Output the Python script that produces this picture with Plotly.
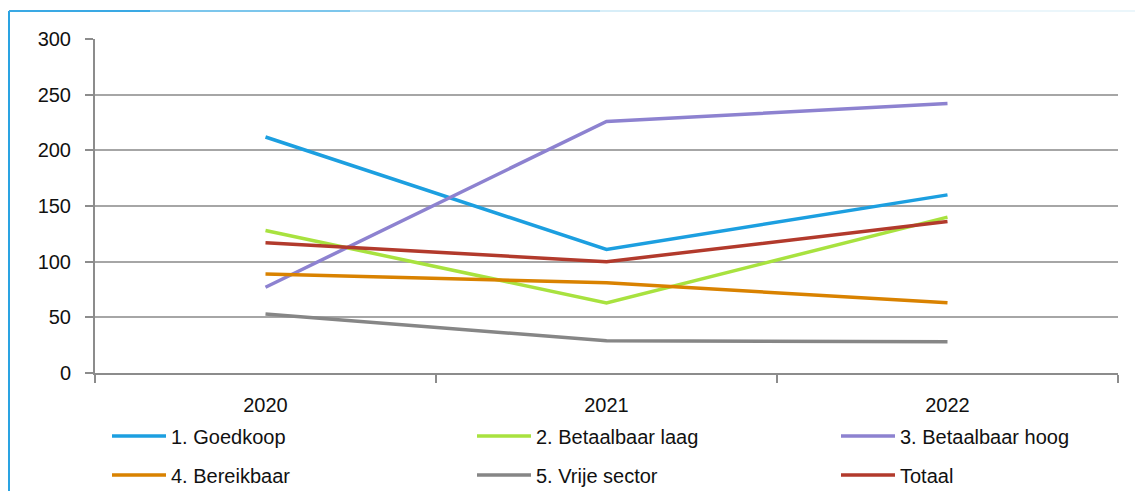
import plotly.graph_objects as go

years = ["2020", "2021", "2022"]
goedkoop = [212, 111, 160]
betaalbaar_laag = [128, 63, 140]
betaalbaar_hoog = [77, 226, 242]
bereikbaar = [89, 81, 63]
vrije_sector = [53, 29, 28]
totaal = [117, 100, 136]

names = ["1. Goedkoop", "2. Betaalbaar laag", "3. Betaalbaar hoog",
         "4. Bereikbaar", "5. Vrije sector", "Totaal"]
values = [goedkoop, betaalbaar_laag, betaalbaar_hoog, bereikbaar, vrije_sector, totaal]
colors = ["#1c9fe0", "#a8e23f", "#8d82d0", "#d98200", "#868686", "#b23a2c"]

FONT = "Liberation Sans, Arial, sans-serif"
FS = 20

W, H = 1143, 491
L, R, T, B = 95, 25, 39, 118
pw, ph = W - L - R, H - T - B


def px_x(p):
    return (p - L) / pw


def px_y(p):
    return (H - B - p) / ph


# legend slot positions (pixel), one legend per entry
leg_x = [107, 472, 836, 107, 472, 836]
leg_y = [436, 436, 436, 475, 475, 475]

fig = go.Figure()
legend_layout = {}
for i, (name, vals, col) in enumerate(zip(names, values, colors)):
    key = "legend" if i == 0 else f"legend{i + 1}"
    fig.add_trace(go.Scatter(x=years, y=vals, mode="lines", name=name,
                             line=dict(color=col, width=3.5), legend=key))
    legend_layout[key] = dict(
        x=px_x(leg_x[i]), y=px_y(leg_y[i]), xanchor="left", yanchor="middle",
        orientation="v", itemwidth=54, bgcolor="rgba(0,0,0,0)",
        font=dict(family=FONT, size=FS, color="#111"))

fig.update_layout(
    width=W, height=H,
    margin=dict(l=L, r=R, t=T, b=B, autoexpand=False),
    paper_bgcolor="white", plot_bgcolor="white",
    font=dict(family=FONT, size=FS, color="#111"),
    showlegend=True,
    xaxis=dict(type="category", range=[-0.5, 2.5], showgrid=False,
               showline=True, linecolor="#8c8c8c", linewidth=2,
               ticks="outside", tickson="boundaries", ticklen=8, tickwidth=2,
               tickcolor="#8c8c8c", tickfont=dict(family=FONT, size=FS, color="#111"),
               ticklabelstandoff=13),
    yaxis=dict(range=[0, 300], tickvals=[0, 50, 100, 150, 200, 250, 300],
               showgrid=True, gridcolor="#a6a6a6", gridwidth=2,
               showline=True, linecolor="#8c8c8c", linewidth=2,
               ticks="outside", ticklen=8, tickwidth=2, tickcolor="#8c8c8c",
               tickfont=dict(family=FONT, size=FS, color="#111"),
               ticklabelstandoff=10, zeroline=False),
    **legend_layout,
)

# frame (left and top edge of the surrounding box)
fig.add_shape(type="line", xref="paper", yref="paper",
              x0=px_x(9), x1=px_x(9), y0=px_y(11), y1=px_y(700),
              line=dict(color="#2aa3e2", width=2))
top_cols = ["#3aa9e4", "#7cc6ec", "#b5def3", "#d8eef8", "#ebf6fb"]
xs = [9, 150, 350, 600, 900, 1135]
for i, c in enumerate(top_cols):
    fig.add_shape(type="line", xref="paper", yref="paper",
                  x0=px_x(xs[i]), x1=px_x(xs[i + 1]), y0=px_y(11), y1=px_y(11),
                  line=dict(color=c, width=2))

fig.write_html("out.html")
